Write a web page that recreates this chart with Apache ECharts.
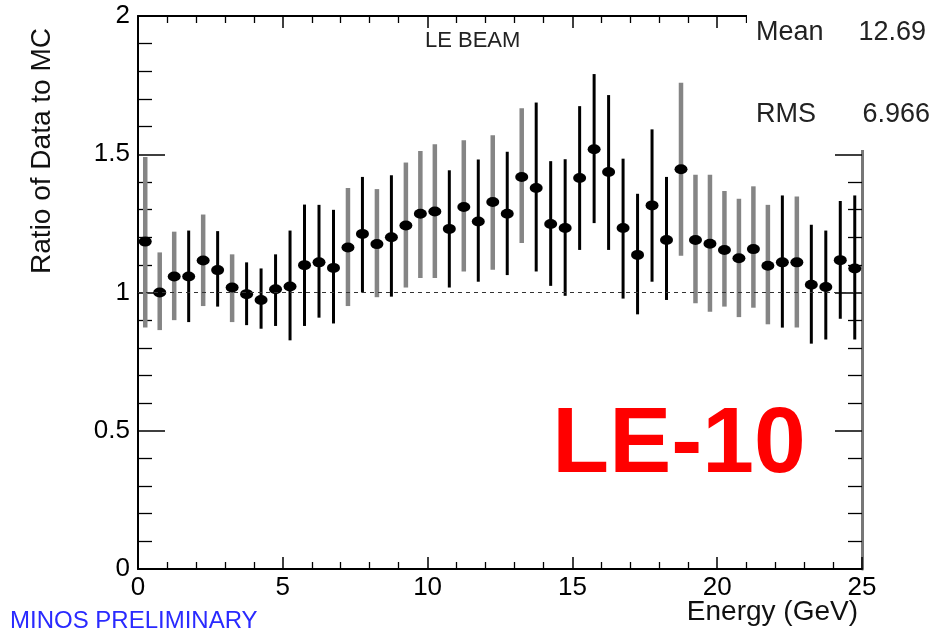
<!DOCTYPE html>
<html>
<head>
<meta charset="utf-8">
<title>LE-10 ratio of data to MC</title>
<script src="https://cdn.jsdelivr.net/npm/echarts/dist/echarts.min.js"></script>
<style>
    html, body { margin: 0; padding: 0; background: #fff; }
    #myChart { width: 934px; height: 634px; }
</style>
</head>
<body>
<div id="myChart"></div>
<script>
// grey error bars (bin centre, ratio, lower edge, upper edge)
var greyEnergy = [0.25, 0.75, 1.25, 2.25, 3.25, 7.25, 8.25, 9.25, 9.75, 10.25, 11.25, 12.25, 13.25, 18.75, 19.25, 19.75, 20.25, 20.75, 21.25, 21.75, 22.75];
var greyRatio = [1.184, 1.0, 1.058, 1.116, 1.018, 1.163, 1.175, 1.242, 1.285, 1.293, 1.309, 1.327, 1.418, 1.446, 1.19, 1.176, 1.154, 1.124, 1.157, 1.097, 1.109];
var greyLow = [0.873, 0.864, 0.90, 0.951, 0.893, 0.951, 0.983, 1.018, 1.052, 1.052, 1.076, 1.082, 1.179, 1.133, 0.961, 0.93, 0.949, 0.911, 0.945, 0.885, 0.873];
var greyHigh = [1.49, 1.145, 1.22, 1.282, 1.138, 1.378, 1.374, 1.47, 1.512, 1.536, 1.551, 1.569, 1.666, 1.759, 1.426, 1.426, 1.367, 1.339, 1.384, 1.317, 1.347];

// black error bars
var blackEnergy = [1.75, 2.75, 3.75, 4.25, 4.75, 5.25, 5.75, 6.25, 6.75, 7.75, 8.75, 10.75, 11.75, 12.75, 13.75, 14.25, 14.75, 15.25, 15.75, 16.25, 16.75, 17.25, 17.75, 18.25, 22.25, 23.25, 23.75, 24.25, 24.75];
var blackRatio = [1.058, 1.081, 0.994, 0.973, 1.012, 1.022, 1.099, 1.109, 1.089, 1.212, 1.2, 1.23, 1.257, 1.285, 1.378, 1.248, 1.233, 1.414, 1.518, 1.436, 1.233, 1.136, 1.315, 1.19, 1.109, 1.028, 1.02, 1.117, 1.087];
var blackLow = [0.893, 0.949, 0.882, 0.869, 0.879, 0.827, 0.879, 0.909, 0.888, 1.0, 0.985, 1.018, 1.039, 1.063, 1.076, 1.024, 0.988, 1.154, 1.251, 1.154, 0.978, 0.921, 1.039, 0.973, 0.873, 0.815, 0.83, 0.905, 0.83];
var blackHigh = [1.224, 1.222, 1.109, 1.087, 1.138, 1.224, 1.318, 1.317, 1.299, 1.418, 1.424, 1.442, 1.481, 1.509, 1.687, 1.475, 1.482, 1.674, 1.79, 1.714, 1.484, 1.357, 1.59, 1.418, 1.351, 1.245, 1.224, 1.331, 1.351];

var statLabels = ['Mean', 'RMS'];
var statValues = ['12.69', '6.966'];

var FONT = 'Liberation Sans, Arial, sans-serif';

function bars(xs, lo, hi) {
    var out = [];
    for (var i = 0; i < xs.length; i++) out.push([xs[i], lo[i], hi[i]]);
    return out;
}
function points(xs, ys) {
    var out = [];
    for (var i = 0; i < xs.length; i++) out.push([xs[i], ys[i]]);
    return out;
}
function errorBar(color, width) {
    return function (params, api) {
        var p1 = api.coord([api.value(0), api.value(1)]);
        var p2 = api.coord([api.value(0), api.value(2)]);
        return {
            type: 'line',
            shape: { x1: p1[0], y1: p1[1], x2: p2[0], y2: p2[1] },
            style: { stroke: color, lineWidth: width }
        };
    };
}

var dom = document.getElementById('myChart');
var myChart = echarts.init(dom, null, { renderer: 'canvas' });

var xBase = {
    type: 'value',
    min: 0,
    max: 25,
    interval: 5,
    splitLine: { show: false },
    axisLine: { show: true, onZero: false, lineStyle: { color: '#000', width: 2 } },
    axisTick: { show: true, inside: true, length: 12, lineStyle: { color: '#000', width: 1.5 } },
    minorTick: { show: true, splitNumber: 5, length: 7, lineStyle: { color: '#000', width: 1.3 } }
};
var yBase = {
    type: 'value',
    min: 0,
    max: 2,
    interval: 0.5,
    splitLine: { show: false },
    axisLine: { show: true, onZero: false, lineStyle: { color: '#000', width: 2 } },
    axisTick: { show: true, inside: true, length: 27, lineStyle: { color: '#000', width: 1.5 } },
    minorTick: { show: true, splitNumber: 5, length: 14, lineStyle: { color: '#000', width: 1.3 } }
};

var option = {
    animation: false,
    backgroundColor: '#fff',
    grid: { left: 138, right: 72, top: 16, bottom: 65 }
};

option.xAxis = [
    Object.assign({}, xBase, {
        position: 'bottom',
        axisLabel: { show: true, margin: 6, color: '#000', fontSize: 26, fontFamily: FONT }
    }),
    Object.assign({}, xBase, {
        position: 'top',
        axisLabel: { show: false }
    })
];
option.yAxis = [
    Object.assign({}, yBase, {
        position: 'left',
        axisLabel: { show: true, margin: 8, color: '#000', fontSize: 26, fontFamily: FONT }
    }),
    Object.assign({}, yBase, {
        position: 'right',
        axisLabel: { show: false },
        axisLine: { show: true, onZero: false, lineStyle: { color: '#777', width: 3 } }
    })
];

option.series = [
    {
        name: 'grey',
        type: 'custom',
        renderItem: errorBar('#858585', 4.5),
        encode: { x: 0, y: [1, 2] },
        data: bars(greyEnergy, greyLow, greyHigh),
        z: 2,
        markLine: {
            silent: true,
            symbol: 'none',
            label: { show: false },
            lineStyle: { color: '#333', width: 1, type: [4, 4] },
            data: [{ yAxis: 1 }]
        }
    },
    {
        name: 'black',
        type: 'custom',
        renderItem: errorBar('#000', 3),
        encode: { x: 0, y: [1, 2] },
        data: bars(blackEnergy, blackLow, blackHigh),
        z: 3
    },
    {
        name: 'grey points',
        type: 'scatter',
        symbol: 'circle',
        symbolSize: [13, 10],
        itemStyle: { color: '#000', opacity: 1 },
        data: points(greyEnergy, greyRatio),
        z: 4
    },
    {
        name: 'black points',
        type: 'scatter',
        symbol: 'circle',
        symbolSize: [13, 10],
        itemStyle: { color: '#000', opacity: 1 },
        data: points(blackEnergy, blackRatio),
        z: 4
    }
];

// titles, stats box and labels
option.graphic = [
    { type: 'text', left: 425, top: 30, z: 10,
      style: { text: 'LE BEAM', fill: '#222', font: '22px ' + FONT } },
    { type: 'text', x: 42, y: 151, rotation: Math.PI / 2, z: 10,
      style: { text: 'Ratio of Data to MC', fill: '#111', font: '28px ' + FONT, textAlign: 'center', textVerticalAlign: 'middle' } },
    { type: 'text', x: 858, y: 612, z: 10,
      style: { text: 'Energy (GeV)', fill: '#111', font: '28px ' + FONT, textAlign: 'right', textVerticalAlign: 'middle' } },
    { type: 'text', x: 10, y: 621, z: 10,
      style: { text: 'MINOS PRELIMINARY', fill: '#2a2aff', font: '24px ' + FONT, textVerticalAlign: 'middle' } },
    { type: 'text', x: 679, y: 446, z: 10,
      style: { text: 'LE-10', fill: '#ff0000', font: 'bold 93px ' + FONT, textAlign: 'center', textVerticalAlign: 'middle' } },
    { type: 'rect', shape: { x: 747, y: 0, width: 187, height: 150 }, z: 20,
      style: { fill: '#fff' } },
    { type: 'text', x: 756, y: 33, z: 21,
      style: { text: statLabels[0], fill: '#222', font: '27px ' + FONT, textVerticalAlign: 'middle' } },
    { type: 'text', x: 926, y: 33, z: 21,
      style: { text: statValues[0], fill: '#222', font: '27px ' + FONT, textAlign: 'right', textVerticalAlign: 'middle' } },
    { type: 'text', x: 756, y: 115, z: 21,
      style: { text: statLabels[1], fill: '#222', font: '27px ' + FONT, textVerticalAlign: 'middle' } },
    { type: 'text', x: 930, y: 115, z: 21,
      style: { text: statValues[1], fill: '#222', font: '27px ' + FONT, textAlign: 'right', textVerticalAlign: 'middle' } }
];

myChart.setOption(option, true);
</script>
</body>
</html>
